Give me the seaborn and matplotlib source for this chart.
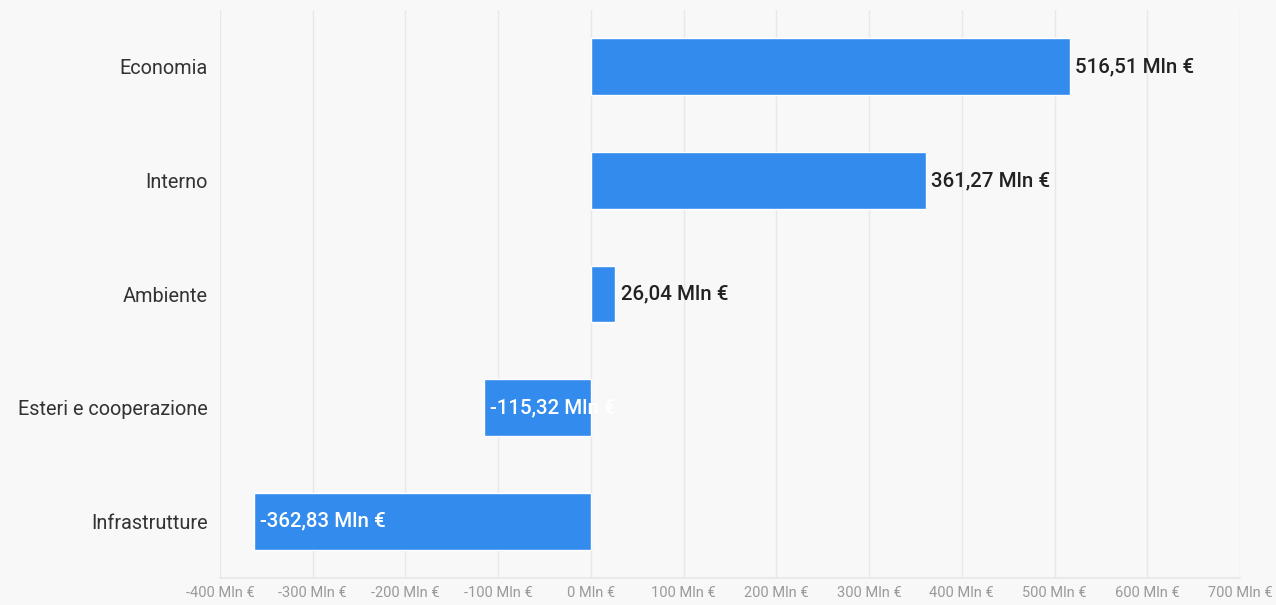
import matplotlib
matplotlib.use("Agg")
import matplotlib.pyplot as plt
import seaborn as sns
import pandas as pd

categories = ["Economia", "Interno", "Ambiente", "Esteri e cooperazione", "Infrastrutture"]
values = [516.51, 361.27, 26.04, -115.32, -362.83]
ticks = [-400, -300, -200, -100, 0, 100, 200, 300, 400, 500, 600, 700]

def fmt(v):
    return f"{v:.2f}".replace(".", ",") + " Mln €"

sns.set_theme(style="white")
plt.rcParams['font.family'] = ['Roboto', 'DejaVu Sans']

bg = "#f8f8f8"
bar_color = "#338ced"
df = pd.DataFrame({"cat": categories, "val": values})

fig = plt.figure(figsize=(12.76, 6.05), dpi=100, facecolor=bg)
ax = fig.add_axes([220/1276, 27/605, 1020/1276, 568/605])
ax.set_facecolor(bg)

sns.barplot(data=df, x="val", y="cat", color=bar_color, width=0.5, ax=ax,
            saturation=1, orient="h", zorder=3)

ax.set_xlim(-400, 700)
ax.set_ylim(4.5, -0.5)
ax.set_xticks(ticks)
ax.set_xticklabels([f"{t} Mln €" for t in ticks], color="#9a9a9a", fontsize=10.5)
ax.tick_params(axis="x", length=0, pad=6)
ax.tick_params(axis="y", length=0, pad=9, labelsize=14.3, labelcolor="#333333")
ax.grid(axis="x", color="#e8e8e8", linewidth=1, zorder=0)
for s in ["top", "right", "left"]:
    ax.spines[s].set_visible(False)
ax.spines["bottom"].set_color("#e8e8e8")
ax.set_xlabel("")
ax.set_ylabel("")

for i, v in enumerate(values):
    col = "#222222" if v >= 0 else "white"
    ax.text(v + 6, i, fmt(v), va="center", ha="left", fontsize=14.8,
            color=col, fontweight="medium", zorder=4)

fig.savefig("out.png", dpi=100, facecolor=bg)
